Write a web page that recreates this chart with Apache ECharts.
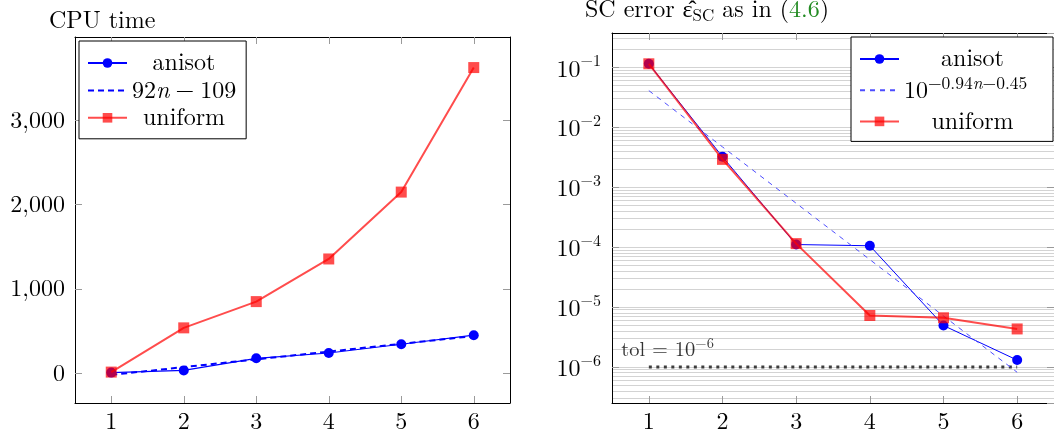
<!DOCTYPE html>
<html><head><meta charset="utf-8">
<script src="https://cdn.jsdelivr.net/npm/echarts@6/dist/echarts.min.js"></script>
<style>
html,body{margin:0;padding:0;background:#fff;overflow:hidden;}
#a{position:absolute;left:0;top:0;width:530px;height:438px}
#b{position:absolute;left:530px;top:0;width:524px;height:438px}
</style>
</head><body><div id="a"></div><div id="b"></div>
<script>
// ---- data ----
const nValues = [1, 2, 3, 4, 5, 6];
const cpuAnisot = [10, 36, 179, 242, 346, 453];
const cpuFit = [-17, 75, 167, 259, 351, 443];
const cpuUniform = [16, 540, 851, 1356, 2148, 3623];
const cpuTicks = [0, 1000, 2000, 3000];
const errAnisot = [0.114, 3.2e-3, 1.1e-4, 1.05e-4, 4.9e-6, 1.3e-6];
const errFit = [0.0407, 4.68e-3, 5.37e-4, 6.17e-5, 7.08e-6, 8.13e-7];
const errUniform = [0.114, 2.9e-3, 1.14e-4, 7.2e-6, 6.6e-6, 4.3e-6];
const tolValue = 1e-6;
const tolRange = [1, 6];
const xTicks = [1, 2, 3, 4, 5, 6];

const FONT = "'Latin Modern Roman','CMU Serif','Liberation Serif','Times New Roman',serif";
const BLUE = '#0000ff';
const RED = 'rgba(255,0,0,0.7)';
const TICK = {show: true, inside: true, length: 7, lineStyle: {color: '#9a9a9a', width: 1}};
const AXLINE = {show: true, onZero: false, lineStyle: {color: '#000', width: 1}};
const pairs = (ys) => nValues.map((n, i) => [n, ys[i]]);

function xAxes() {
  return [
    {type: 'value', min: 0.5, max: 6.5, position: 'bottom', axisLine: AXLINE,
     axisTick: Object.assign({customValues: xTicks}, TICK),
     axisLabel: {customValues: xTicks, margin: 7, fontFamily: FONT, fontSize: 24, color: '#000'},
     splitLine: {show: false}},
    {type: 'value', min: 0.5, max: 6.5, position: 'top', axisLine: AXLINE,
     axisTick: Object.assign({customValues: xTicks}, TICK),
     axisLabel: {show: false}, splitLine: {show: false}}
  ];
}

// ---------------- Chart A ----------------
const chartA = echarts.init(document.getElementById('a'), null, {renderer: 'canvas'});
const richA = {
  c: {fontFamily: FONT, fontSize: 24, lineHeight: 26, width: 104, align: 'center', color: '#000'},
  t: {fontFamily: FONT, fontSize: 24, lineHeight: 26, color: '#000'},
  ti: {fontFamily: FONT, fontSize: 24, lineHeight: 26, fontStyle: 'italic', color: '#000'}
};
chartA.setOption({
  animation: false,
  title: {text: 'CPU time', left: 49, top: 9, padding: 0,
          textStyle: {fontFamily: FONT, fontSize: 24, fontWeight: 'normal', color: '#000', lineHeight: 24}},
  grid: {left: 75, top: 37, width: 435, height: 366, containLabel: false},
  xAxis: xAxes(),
  yAxis: [
    {type: 'value', min: -350, max: 3985, position: 'left', axisLine: AXLINE,
     axisTick: Object.assign({customValues: cpuTicks}, TICK),
     axisLabel: {customValues: cpuTicks, margin: 10, fontFamily: FONT, fontSize: 24, color: '#000',
                 formatter: v => Number(v).toLocaleString('en-US')},
     splitLine: {show: false}},
    {type: 'value', min: -350, max: 3985, position: 'right', axisLine: AXLINE,
     axisTick: Object.assign({customValues: cpuTicks}, TICK),
     axisLabel: {show: false}, splitLine: {show: false}}
  ],
  legend: {
    orient: 'vertical', left: 79, top: 41, padding: [10, 10, 9, 8], itemGap: 3.4,
    itemWidth: 39, itemHeight: 12, borderColor: '#000', borderWidth: 1, backgroundColor: '#fff',
    selectedMode: false,
    data: ['anisot', {name: 'fitA', itemStyle: {opacity: 0}}, 'uniform'],
    formatter: name => name === 'fitA' ? '{t|92}{ti|n}{t|\u2005−\u2005109}' : '{c|' + name + '}',
    textStyle: {fontFamily: FONT, fontSize: 24, color: '#000', rich: richA}
  },
  series: [
    {name: 'anisot', type: 'line', data: pairs(cpuAnisot), symbol: 'circle', symbolSize: 10,
     lineStyle: {color: BLUE, width: 1.2}, itemStyle: {color: BLUE, borderWidth: 0}, z: 3},
    {name: 'fitA', type: 'line', data: pairs(cpuFit), symbol: 'none', showSymbol: false,
     lineStyle: {color: BLUE, width: 2, type: [6, 4]}, itemStyle: {color: BLUE}, z: 3},
    {name: 'uniform', type: 'line', data: pairs(cpuUniform), symbol: 'rect', symbolSize: 11,
     lineStyle: {color: RED, width: 2}, itemStyle: {color: RED, borderWidth: 0}, z: 4}
  ]
});

// ---------------- Chart B ----------------
const chartB = echarts.init(document.getElementById('b'), null, {renderer: 'canvas'});
const yMinB = 2.5e-7, yMaxB = 0.372;
const minorGrid = [];
for (let e = -7; e <= -1; e++) {
  for (let m = 2; m <= 9; m++) {
    const v = m * Math.pow(10, e);
    if (v > yMinB && v < yMaxB) minorGrid.push({yAxis: v});
  }
}
const richB = {
  c: {fontFamily: FONT, fontSize: 24, lineHeight: 28, width: 137, align: 'center', color: '#000'},
  t: {fontFamily: FONT, fontSize: 24, lineHeight: 28, color: '#000'},
  s: {fontFamily: FONT, fontSize: 17.5, lineHeight: 28, padding: [0, 0, 14, 0], color: '#000'},
  si: {fontFamily: FONT, fontSize: 17.5, lineHeight: 28, padding: [0, 0, 14, 0], fontStyle: 'italic', color: '#000'}
};
const logLabel = v => {
  const e = Math.round(Math.log10(v));
  return '{b|10}{s|' + (e < 0 ? '−' : '') + Math.abs(e) + '}';
};
chartB.setOption({
  animation: false,
  title: {text: '{t|SC error }{t|ε̂}{sub|SC}{t| as in (}{g|4.6}{t|)}', left: 55, top: -2, padding: 0,
          textStyle: {fontFamily: FONT, fontSize: 24, fontWeight: 'normal', color: '#000',
            rich: {
              t: {fontFamily: FONT, fontSize: 24, lineHeight: 26, verticalAlign: 'top', color: '#000'},
              sub: {fontFamily: FONT, fontSize: 17, lineHeight: 17, verticalAlign: 'bottom', color: '#000'},
              g: {fontFamily: FONT, fontSize: 24, lineHeight: 26, verticalAlign: 'top', color: '#228b22'}
            }}},
  grid: {left: 82, top: 33, width: 445, height: 370, containLabel: false},
  xAxis: xAxes(),
  yAxis: [
    {type: 'log', min: yMinB, max: yMaxB, position: 'left', axisLine: AXLINE, axisTick: TICK,
     axisLabel: {margin: 11, showMinLabel: false, showMaxLabel: false, formatter: logLabel,
       rich: {
         b: {fontFamily: FONT, fontSize: 24, lineHeight: 28, verticalAlign: 'bottom', color: '#000'},
         s: {fontFamily: FONT, fontSize: 16, lineHeight: 16, verticalAlign: 'top', color: '#000'}
       }},
     splitLine: {show: true, lineStyle: {color: '#d3d3d3', width: 1}}},
    {type: 'log', min: yMinB, max: yMaxB, position: 'right', axisLine: AXLINE, axisTick: TICK,
     axisLabel: {show: false}, splitLine: {show: false}}
  ],
  legend: {
    orient: 'vertical', left: 321, top: 37, padding: [10, 12, 8, 8], itemGap: 3.2,
    itemWidth: 39, itemHeight: 12, borderColor: '#000', borderWidth: 1, backgroundColor: '#fff',
    selectedMode: false, z: 10,
    data: ['anisot', {name: 'fit', itemStyle: {opacity: 0}}, 'uniform'],
    formatter: name => name === 'fit' ? '{t|10}{s|−0.94}{si|n}{s|−0.45}' : '{c|' + name + '}',
    textStyle: {fontFamily: FONT, fontSize: 24, color: '#000', rich: richB}
  },
  series: [
    {name: 'minor', type: 'line', data: [], z: 1, silent: true,
     markLine: {silent: true, symbol: 'none', precision: 20, z: 0, zlevel: 0, label: {show: false}, animation: false,
       lineStyle: {color: '#d3d3d3', width: 1, type: 'solid'}, emphasis: {disabled: true},
       data: minorGrid}},
    {name: 'tol', type: 'line', data: tolRange.map(n => [n, tolValue]), symbol: 'none', showSymbol: false,
     lineStyle: {color: '#3c3c3c', width: 3, type: [3, 4.5]}, z: 2},
    {name: 'tolLabel', type: 'scatter', data: [[tolRange[0], tolValue]], symbolSize: 1,
     itemStyle: {color: 'rgba(0,0,0,0)'}, z: 2, silent: true,
     label: {show: true, position: [-27, -6], align: 'left', verticalAlign: 'bottom',
       formatter: () => '{a|tol = 10}{b|−6}',
       rich: {
         a: {fontFamily: FONT, fontSize: 20.5, lineHeight: 24, verticalAlign: 'bottom', color: '#000'},
         b: {fontFamily: FONT, fontSize: 14.5, lineHeight: 14, verticalAlign: 'top', color: '#000'}
       }}},
    {name: 'anisot', type: 'line', data: pairs(errAnisot), symbol: 'circle', symbolSize: 10,
     lineStyle: {color: BLUE, width: 1}, itemStyle: {color: BLUE, borderWidth: 0}, z: 3},
    {name: 'fit', type: 'line', data: pairs(errFit), symbol: 'none', showSymbol: false,
     lineStyle: {color: '#4d4dff', width: 1, type: [5, 5]}, itemStyle: {color: '#4d4dff'}, z: 3},
    {name: 'uniform', type: 'line', data: pairs(errUniform), symbol: 'rect', symbolSize: 11,
     lineStyle: {color: RED, width: 2}, itemStyle: {color: RED, borderWidth: 0}, z: 4}
  ]
});
</script>
</body></html>
